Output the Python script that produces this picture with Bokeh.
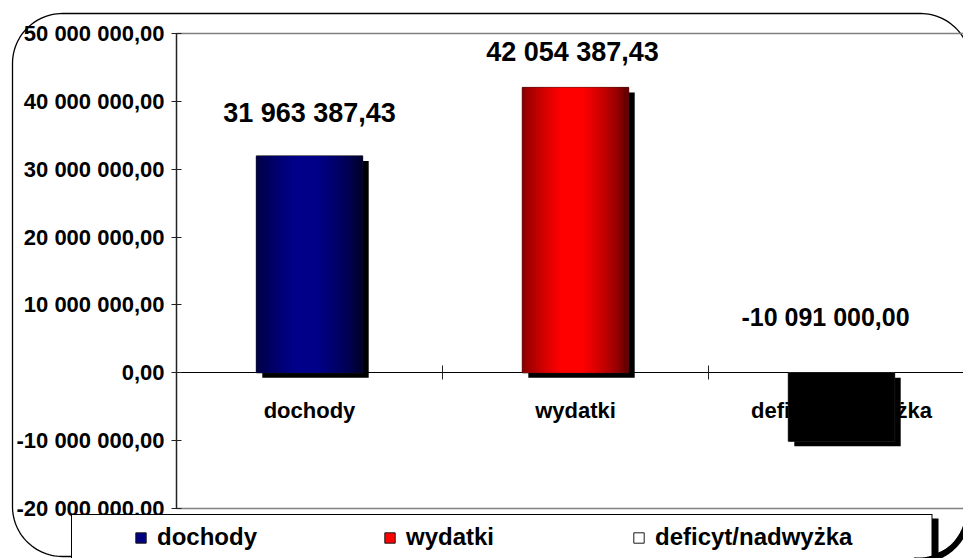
import numpy as np
from bokeh.plotting import figure
from bokeh.models import (Range1d, LinearAxis, FixedTicker, CustomJSTickFormatter,
                          BoxAnnotation, Legend, LegendItem, ColumnDataSource)
from bokeh.core.properties import value
from bokeh.embed import file_html
from bokeh.resources import INLINE

# ---------------- data ----------------
categories = ["dochody", "wydatki", "deficyt/nadwyżka"]
values = [31963387.43, 42054387.43, -10091000.00]
y_ticks = [-20e6, -10e6, 0, 10e6, 20e6, 30e6, 40e6, 50e6]

# ---------------- style ----------------
legend_fill = ["#000080", "#FF0000", "#FFFFFF"]
grad_edge = [(0, 0, 48), (105, 0, 0), (0, 0, 0)]
grad_peak = [(0, 0, 138), (255, 0, 0), (0, 0, 0)]
label_sizes = ["27px", "27px", "25px"]
label_dx = [0, -3, -16]
label_dy = [-43, -35, -56]

FONT = "Liberation Sans"
W, H = 963, 558
FL, FT, FB = 176, 33, 508  # plot-area left / top / bottom (canvas px)
cat_px = 266.0
bar_w = 0.40
N = 40

y0, y1 = y_ticks[0], y_ticks[-1]
ypp = (y1 - y0) / (FB - FT)          # data units per px (y)
xpp = 1.0 / cat_px                   # data units per px (x)
x_start = -FL * xpp
x_end = (W - FL) * xpp
y_top = y1 + FT * ypp
y_bot = y1 - (H - FT) * ypp
n_cat = len(categories)

def dx(px):
    return (np.asarray(px, dtype=float) - FL) * xpp

def dy(py):
    return y1 - (np.asarray(py, dtype=float) - FT) * ypp

p = figure(width=W, height=H, x_range=Range1d(x_start, x_end), y_range=Range1d(y_bot, y_top),
           output_backend="svg", toolbar_location=None,
           x_axis_type=None, y_axis_type=None, min_border=0)
p.outline_line_color = None
p.background_fill_color = "white"
p.border_fill_color = "white"

def box(l, r, t, b, **kw):
    return BoxAnnotation(left=l, right=r, top=t, bottom=b,
                         left_units="canvas", right_units="canvas",
                         top_units="canvas", bottom_units="canvas", **kw)

# ---------------- outer rounded border (decoration) ----------------
def rounded_path(l, t, r, b, rad, n=30):
    xs, ys = [], []
    corners = [((l + rad, t + rad), 180, 270), ((r - rad, t + rad), 270, 360),
               ((r - rad, b - rad), 0, 90), ((l + rad, b - rad), 90, 180)]
    for (cx, cy), a0, a1 in corners:
        th = np.radians(np.linspace(a0, a1, n))
        xs.extend(cx + rad * np.cos(th))
        ys.extend(cy + rad * np.sin(th))
    xs.append(xs[0]); ys.append(ys[0])
    return dx(xs), dy(ys)

bx, by = rounded_path(12, 13, 970, 556, 50)
p.line(bx, by, line_color="black", line_width=1.3, level="underlay")

th = np.radians(np.linspace(-5, 95, 40))
p.line(dx(918 + 50 * np.cos(th)), dy(510 + 50 * np.sin(th)),
       line_color="black", line_width=6, level="overlay")

# ---------------- plot-area top / bottom lines ----------------
for loc in (y0, y1):
    fa = LinearAxis(ticker=FixedTicker(ticks=[]), formatter=CustomJSTickFormatter(code="return ''"),
                    fixed_location=loc, bounds=(0, x_end))
    fa.axis_line_color = "#808080"
    fa.axis_line_width = 1.5
    fa.major_tick_line_color = None
    fa.minor_tick_line_color = None
    p.add_layout(fa, "below")

# ---------------- y axis ----------------
fmt = CustomJSTickFormatter(code="""
const s = Math.abs(tick).toFixed(2).split('.');
const ip = s[0].replace(/\\B(?=(\\d{3})+(?!\\d))/g, ' ');
return (tick < 0 ? '-' : '') + ip + ',' + s[1];
""")
yaxis = LinearAxis(ticker=FixedTicker(ticks=y_ticks), formatter=fmt, fixed_location=0, bounds=(y0, y1))
yaxis.axis_line_color = "#222222"
yaxis.axis_line_width = 1.5
yaxis.major_tick_line_color = "#222222"
yaxis.major_tick_in = 5
yaxis.major_tick_out = 5
yaxis.minor_tick_line_color = None
yaxis.major_label_standoff = 7
yaxis.major_label_text_font = FONT
yaxis.major_label_text_font_size = "22px"
yaxis.major_label_text_font_style = "bold"
yaxis.major_label_text_color = "black"
p.add_layout(yaxis, "left")

# ---------------- x axis at zero: boundary ticks ----------------
xaxis = LinearAxis(ticker=FixedTicker(ticks=list(range(1, n_cat))),
                   formatter=CustomJSTickFormatter(code="return ''"),
                   fixed_location=0, bounds=(0, x_end))
xaxis.axis_line_color = "black"
xaxis.axis_line_width = 1
xaxis.major_tick_line_color = "#222222"
xaxis.major_tick_in = 7
xaxis.major_tick_out = 7
xaxis.minor_tick_line_color = None
p.add_layout(xaxis, "below")

# category labels
centers = [i + 0.5 for i in range(n_cat)]
cat_axis = LinearAxis(ticker=FixedTicker(ticks=centers),
                      formatter=CustomJSTickFormatter(args=dict(labels=categories),
                                                      code="return labels[Math.round(tick - 0.5)]"),
                      fixed_location=0, bounds=(0, x_end))
cat_axis.axis_line_color = None
cat_axis.major_tick_line_color = None
cat_axis.major_tick_in = 0
cat_axis.major_tick_out = 0
cat_axis.minor_tick_line_color = None
cat_axis.major_label_standoff = 25
cat_axis.major_label_text_font = FONT
cat_axis.major_label_text_font_size = "22px"
cat_axis.major_label_text_font_style = "bold"
cat_axis.major_label_text_color = "black"
p.add_layout(cat_axis, "below")

# ---------------- bars ----------------
sdx = 6 * xpp
sdy = 5 * ypp
ov = 1.5 * xpp
base_renderers = []
for i, (c, v) in enumerate(zip(centers, values)):
    top = max(v, 0.0)
    bot = min(v, 0.0)
    # shadow
    p.vbar(x=[c + sdx], top=[top - sdy], bottom=[bot - sdy], width=bar_w,
           fill_color="black", line_color=None, level="overlay")
    # base (legend) bar
    r = p.vbar(x=[c], top=[top], bottom=[bot], width=bar_w,
               fill_color=legend_fill[i], line_color="#1a1a1a", line_width=1, level="overlay")
    base_renderers.append(r)
    # gradient strips
    L, R = c - bar_w / 2, c + bar_w / 2
    w = bar_w / N
    t = (np.arange(N) + 0.5) / N
    s = np.clip(1 - (np.abs(t - 0.46) - 0.10) / 0.40, 0, 1) ** 0.7
    e = np.array(grad_edge[i], dtype=float)
    pk = np.array(grad_peak[i], dtype=float)
    cols = ["#%02x%02x%02x" % tuple(int(round(q)) for q in (e + (pk - e) * sv)) for sv in s]
    lefts = L + np.arange(N) * w
    rights = np.minimum(lefts + w + ov, R)
    src = ColumnDataSource(dict(left=lefts, right=rights, top=[top] * N, bottom=[bot] * N, color=cols))
    p.quad(left="left", right="right", top="top", bottom="bottom", source=src,
           fill_color="color", line_color=None, level="overlay")

# ---------------- data labels ----------------
def pl_fmt(v):
    s = f"{abs(v):,.2f}".replace(",", " ").replace(".", ",")
    return ("-" if v < 0 else "") + s

lab_src = ColumnDataSource(dict(
    x=centers, y=[max(v, 0.0) for v in values], text=[pl_fmt(v) for v in values],
    fs=label_sizes, xo=label_dx, yo=label_dy))
p.text(x="x", y="y", text="text", source=lab_src, x_offset="xo", y_offset="yo",
       text_font_size="fs", text_font=value(FONT), text_font_style="bold",
       text_align="center", text_baseline="alphabetic", text_color="black")

# ---------------- legend box ----------------
p.add_layout(box(76, 938, 518, 620, fill_color="black", fill_alpha=1, line_color=None), "center")
p.add_layout(box(70.5, 932, 513.5, 620, fill_color="black", fill_alpha=1, line_color=None), "center")
p.add_layout(box(71.5, 931, 514.5, 620, fill_color="white", fill_alpha=1, line_color=None), "center")

legend = Legend(items=[LegendItem(label=cat, renderers=[r]) for cat, r in zip(categories, base_renderers)],
                orientation="horizontal", location=(134, 7),
                glyph_width=13, glyph_height=13, label_standoff=10, label_width=226,
                spacing=0, padding=0, margin=0,
                border_line_color=None, background_fill_alpha=0,
                label_text_font=FONT, label_text_font_size="24px",
                label_text_font_style="bold", label_text_color="black")
p.add_layout(legend, "center")

open("out.html", "w").write(file_html(p, INLINE))
